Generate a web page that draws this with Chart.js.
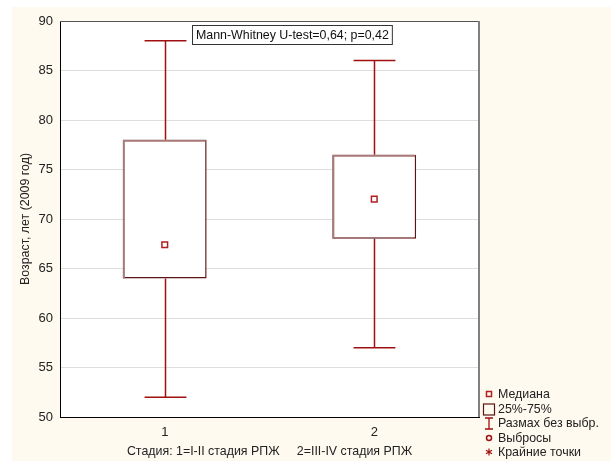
<!DOCTYPE html>
<html>
<head>
<meta charset="utf-8">
<script src="https://cdn.jsdelivr.net/npm/chart.js@4/dist/chart.umd.min.js"></script>
<style>
  html, body { margin: 0; padding: 0; background: #ffffff; }
  #wrap { width: 611px; height: 461px; position: relative; }
</style>
</head>
<body>
<div id="wrap"><canvas id="c" width="611" height="461"></canvas></div>
<script>
// Age by cancer stage: box = 25%-75%, whiskers = range without outliers
const categories = ['1', '2'];
const q1 = [64, 68];
const q3 = [78, 76.5];
const medians = [67.4, 72];
const whiskerLow = [52, 57];
const whiskerHigh = [88, 86];
const yTicks = [50, 55, 60, 65, 70, 75, 80, 85, 90];

const testText = 'Mann-Whitney U-test=0,64; p=0,42';
const yTitle = 'Возраст, лет (2009 год)';
const xTitle = 'Стадия: 1=I-II стадия РПЖ     2=III-IV стадия РПЖ';
const legendItems = ['Медиана', '25%-75%', 'Размах без выбр.', 'Выбросы', 'Крайние точки'];

const FONT = 'Arial, "Liberation Sans", sans-serif';
Chart.defaults.font.family = FONT;
Chart.defaults.font.size = 12.4;
Chart.defaults.color = '#222222';

const CREAM = '#fefaef';
const WHISKER = '#a01010';
const BOX_DARK = '#5c1414';
const BOX_LIGHT = '#a87a7a';

const backgroundPlugin = {
  id: 'bg',
  beforeDraw(chart) {
    const ctx = chart.ctx;
    const a = chart.chartArea;
    ctx.save();
    ctx.fillStyle = '#ffffff';
    ctx.fillRect(0, 0, chart.width, chart.height);
    ctx.fillStyle = CREAM;
    ctx.fillRect(12, 7, chart.width - 12, chart.height - 7);
    ctx.fillStyle = '#ffffff';
    ctx.fillRect(a.left, a.top, a.right - a.left, a.bottom - a.top);
    ctx.restore();
  }
};

// Whiskers drawn behind the boxes, through the chart's scales
const whiskerPlugin = {
  id: 'whiskers',
  beforeDatasetsDraw(chart) {
    const ctx = chart.ctx;
    const x = chart.scales.x, y = chart.scales.y;
    const meta = chart.getDatasetMeta(0);
    ctx.save();
    ctx.strokeStyle = WHISKER;
    ctx.lineWidth = 1.5;
    categories.forEach((c, i) => {
      const cx = Math.round(x.getPixelForValue(i)) + 0.5;
      const bw = meta.data[i].width;
      const capHalf = bw / 4;
      const yLo = y.getPixelForValue(whiskerLow[i]);
      const yHi = y.getPixelForValue(whiskerHigh[i]);
      const yQ1 = y.getPixelForValue(q1[i]);
      const yQ3 = y.getPixelForValue(q3[i]);
      ctx.beginPath();
      ctx.moveTo(cx, yHi); ctx.lineTo(cx, yQ3);
      ctx.moveTo(cx, yQ1); ctx.lineTo(cx, yLo);
      ctx.moveTo(cx - capHalf, yHi); ctx.lineTo(cx + capHalf, yHi);
      ctx.moveTo(cx - capHalf, yLo); ctx.lineTo(cx + capHalf, yLo);
      ctx.stroke();
    });
    ctx.restore();
  },
  afterDatasetDraw(chart, args) {
    // two-tone edge on the boxes: lighter top and left sides
    if (args.index !== 0) return;
    const ctx = chart.ctx;
    const meta = chart.getDatasetMeta(0);
    ctx.save();
    ctx.strokeStyle = BOX_LIGHT;
    ctx.lineWidth = 2;
    meta.data.forEach(bar => {
      const l = bar.x - bar.width / 2;
      const top = Math.min(bar.y, bar.base);
      const bot = Math.max(bar.y, bar.base);
      ctx.beginPath();
      ctx.moveTo(l + 1, bot);
      ctx.lineTo(l + 1, top + 1);
      ctx.lineTo(l + bar.width - 1, top + 1);
      ctx.stroke();
    });
    ctx.restore();
  }
};

const framePlugin = {
  id: 'frame',
  afterDraw(chart) {
    const ctx = chart.ctx;
    const a = chart.chartArea;
    ctx.save();
    // top and right frame
    ctx.strokeStyle = '#555555';
    ctx.lineWidth = 1;
    ctx.beginPath();
    ctx.moveTo(a.left, a.top + 0.5);
    ctx.lineTo(a.right, a.top + 0.5);
    ctx.stroke();
    ctx.strokeStyle = '#808080';
    ctx.lineWidth = 2;
    ctx.beginPath();
    ctx.moveTo(a.right, a.top);
    ctx.lineTo(a.right, a.bottom);
    ctx.stroke();

    // test result box
    ctx.font = '12.4px ' + FONT;
    const tw = ctx.measureText(testText).width;
    const bx = 192, by = 25, bh = 19;
    const bwid = tw + 7;
    ctx.fillStyle = '#ffffff';
    ctx.fillRect(bx, by, bwid, bh);
    ctx.strokeStyle = '#333333';
    ctx.lineWidth = 1;
    ctx.strokeRect(bx + 0.5, by + 0.5, bwid, bh);
    ctx.fillStyle = '#111111';
    ctx.textBaseline = 'middle';
    ctx.textAlign = 'left';
    ctx.fillText(testText, bx + 4, by + bh / 2 + 1);

    // legend
    const lx = 489, tx = 498;
    const rows = [394, 409, 423, 438, 452];
    ctx.fillStyle = '#222222';
    legendItems.forEach((t, i) => ctx.fillText(t, tx, rows[i] + 1));
    // median marker
    ctx.strokeStyle = '#b02020';
    ctx.lineWidth = 1.5;
    ctx.strokeRect(lx - 2.5, rows[0] - 2.5, 5, 5);
    // box marker
    ctx.strokeStyle = BOX_DARK;
    ctx.lineWidth = 1.2;
    ctx.strokeRect(lx - 5.5, rows[1] - 5, 11, 11);
    // range marker (I-beam)
    ctx.strokeStyle = WHISKER;
    ctx.lineWidth = 1.3;
    ctx.beginPath();
    ctx.moveTo(lx - 4, rows[2] - 5); ctx.lineTo(lx + 4, rows[2] - 5);
    ctx.moveTo(lx, rows[2] - 5); ctx.lineTo(lx, rows[2] + 6);
    ctx.moveTo(lx - 4, rows[2] + 6); ctx.lineTo(lx + 4, rows[2] + 6);
    ctx.stroke();
    // outlier marker
    ctx.strokeStyle = '#a01010';
    ctx.lineWidth = 1.5;
    ctx.beginPath();
    ctx.arc(lx, rows[3], 2.5, 0, Math.PI * 2);
    ctx.stroke();
    // extreme marker (asterisk)
    ctx.lineWidth = 1.2;
    ctx.beginPath();
    for (let k = 0; k < 3; k++) {
      const ang = Math.PI / 2 + k * Math.PI / 3;
      ctx.moveTo(lx - 3.5 * Math.cos(ang), rows[4] - 3.5 * Math.sin(ang));
      ctx.lineTo(lx + 3.5 * Math.cos(ang), rows[4] + 3.5 * Math.sin(ang));
    }
    ctx.stroke();
    ctx.restore();
  }
};

new Chart(document.getElementById('c'), {
  data: {
    labels: categories,
    datasets: [
      {
        type: 'bar',
        data: q1.map((v, i) => [v, q3[i]]),
        backgroundColor: '#ffffff',
        borderColor: BOX_DARK,
        borderWidth: 1.5,
        borderSkipped: false,
        barPercentage: 0.4,
        categoryPercentage: 1.0,
        order: 2
      },
      {
        type: 'line',
        data: medians,
        showLine: false,
        pointStyle: 'rect',
        pointRadius: 4,
        pointBorderWidth: 1.5,
        pointBorderColor: '#b02020',
        pointBackgroundColor: '#ffffff',
        order: 1
      }
    ]
  },
  options: {
    responsive: false,
    animation: false,
    events: [],
    layout: { padding: { left: 0, top: 21, right: 132, bottom: 0 } },
    plugins: { legend: { display: false }, tooltip: { enabled: false } },
    scales: {
      x: {
        type: 'category',
        offset: true,
        grid: { display: false, drawTicks: false },
        border: { color: '#000000', width: 1 },
        ticks: { padding: 8, color: '#222222', font: { size: 13 } },
        title: { display: true, text: xTitle, padding: { top: 0, bottom: 2 }, color: '#222222', font: { size: 12.4 } },
        afterFit(s) { s.height = 44; }
      },
      y: {
        min: 50,
        max: 90,
        afterBuildTicks(s) { s.ticks = yTicks.map(v => ({ value: v })); },
        grid: { color: '#dedede', lineWidth: 1, drawTicks: false },
        border: { color: '#000000', width: 1 },
        ticks: { padding: 7, color: '#222222', font: { size: 13 } },
        title: { display: true, text: yTitle, padding: { top: 18, bottom: 0 }, color: '#222222', font: { size: 12.4 } },
        afterFit(s) { s.width = 60; }
      }
    }
  },
  plugins: [backgroundPlugin, whiskerPlugin, framePlugin]
});
</script>
</body>
</html>
